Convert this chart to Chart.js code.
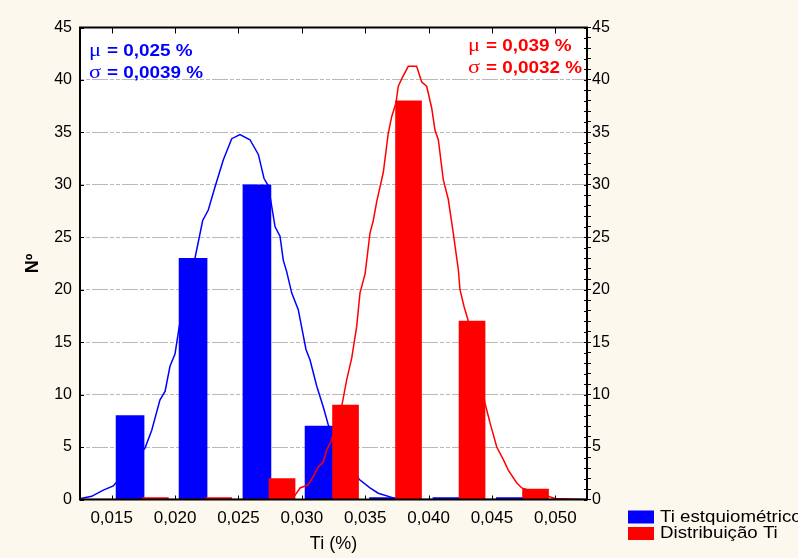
<!DOCTYPE html>
<html>
<head>
<meta charset="utf-8">
<script src="https://cdn.jsdelivr.net/npm/chart.js@4.4.1/dist/chart.umd.min.js"></script>
<style>
  html, body { margin: 0; padding: 0; background: #fdf8ee; }
  #wrap { width: 798px; height: 558px; }
</style>
</head>
<body>
<div id="wrap"><canvas id="ti-chart" width="798" height="558"></canvas></div>
<script>
// x axis tick labels (Ti %)
const xTickValues = [0.015, 0.020, 0.025, 0.030, 0.035, 0.040, 0.045, 0.050];

// histogram bars, Ti estquiométrico (blue)
const blueBarX = [0.01645, 0.02142, 0.02646, 0.03136, 0.03645, 0.04145, 0.04645];
const blueBarN = [8, 23, 30, 7, 0, 0, 0];

// histogram bars, Distribuição Ti (red)
const redBarX = [0.01844, 0.02344, 0.02844, 0.03345, 0.03842, 0.04343, 0.04844];
const redBarN = [0, 0, 2, 9, 38, 17, 1];

// fitted curve, blue
const blueCurveX = [0.01256, 0.01342, 0.01434, 0.01513, 0.01763, 0.01816, 0.01881, 0.01921, 0.01960,
  0.02000, 0.02033, 0.02157, 0.02218, 0.02262, 0.02315, 0.02381, 0.02447, 0.02512, 0.02591,
  0.02657, 0.02702, 0.02736, 0.02789, 0.02828, 0.02854, 0.02881, 0.02920, 0.02972, 0.03033,
  0.03065, 0.03118, 0.03144, 0.03170, 0.03209, 0.03454, 0.03538, 0.03603, 0.03709, 0.03749, 0.0525];
const blueCurveN = [0.1, 0.3, 0.9, 1.3, 4.9, 6.6, 9.5, 10.3, 12.7,
  13.9, 16.5, 23.0, 26.6, 27.6, 29.8, 32.4, 34.4, 34.8, 34.3,
  32.9, 30.6, 29.9, 26.0, 25.1, 22.8, 21.7, 19.7, 18.1, 14.3,
  13.3, 10.8, 9.8, 8.8, 7.1, 1.9, 1.1, 0.6, 0.2, 0, 0];

// fitted curve, red
const redCurveX = [0.0125, 0.02749, 0.02946, 0.02986, 0.03051, 0.03091, 0.03130, 0.03170, 0.03196,
  0.03236, 0.03315, 0.03354, 0.03394, 0.03433, 0.03459, 0.03499, 0.03538, 0.03564, 0.03591,
  0.03643, 0.03682, 0.03709, 0.03743, 0.03761, 0.03796, 0.03840, 0.03906, 0.03946, 0.03985,
  0.04025, 0.04051, 0.04077, 0.04116, 0.04156, 0.04195, 0.04235, 0.04248, 0.04280, 0.04314,
  0.04445, 0.04485, 0.04538, 0.04590, 0.04629, 0.04695, 0.04735, 0.04998, 0.05218];
const redCurveN = [0, 0, 0.4, 1.1, 1.4, 2.2, 3.1, 3.6, 4.7,
  5.7, 8.9, 11.4, 13.5, 16.5, 19.7, 21.5, 25.4, 26.6, 28.4,
  31.2, 34.9, 36.5, 37.8, 39.4, 40.3, 41.3, 41.3, 39.8, 39.4,
  37.3, 35.2, 34.3, 30.5, 28.6, 25.4, 21.9, 20.0, 18.4, 17.0,
  9.2, 7.3, 5.0, 3.8, 2.8, 1.6, 1.1, 0.1, 0];

const BLUE = '#0000ff';
const RED = '#ff0000';
const SANS = '"Liberation Sans", Arial, sans-serif';
const SERIF = '"Liberation Serif", "Times New Roman", serif';

function pairs(xs, ys) {
  return xs.map((x, i) => ({ x: x, y: ys[i] }));
}

// background, white plot area, frame, inner ticks, stats text, legend
const decorations = {
  id: 'decorations',
  beforeDraw(chart) {
    const { ctx, chartArea: a } = chart;
    ctx.save();
    ctx.fillStyle = '#fdf8ee';
    ctx.fillRect(0, 0, chart.width, chart.height);
    ctx.fillStyle = '#ffffff';
    ctx.fillRect(a.left, a.top, a.right - a.left, a.bottom - a.top);
    ctx.restore();
  },
  afterDatasetsDraw(chart) {
    const { ctx, chartArea: a, scales } = chart;
    ctx.save();
    ctx.strokeStyle = '#000';
    ctx.lineWidth = 1;
    ctx.beginPath();
    xTickValues.forEach(v => {
      const px = Math.round(scales.x.getPixelForValue(v)) + 0.5;
      ctx.moveTo(px, a.top); ctx.lineTo(px, a.top + 6);
      ctx.moveTo(px, a.bottom); ctx.lineTo(px, a.bottom - 4);
    });
    scales.y.ticks.forEach(t => {
      const py = Math.round(scales.y.getPixelForValue(t.value)) + 0.5;
      ctx.moveTo(a.left, py); ctx.lineTo(a.left + 4, py);
    });
    scales.y2.ticks.forEach(t => {
      const py = Math.round(scales.y2.getPixelForValue(t.value)) + 0.5;
      ctx.moveTo(a.right, py); ctx.lineTo(a.right - 3, py);
    });
    ctx.stroke();
    ctx.lineWidth = 2;
    ctx.strokeRect(a.left, a.top, a.right - a.left, a.bottom - a.top);
    ctx.restore();

    drawStat(ctx, a.left + 9, a.top + 24, '\u03bc', '= 0,025 %', BLUE);
    drawStat(ctx, a.left + 9, a.top + 46, '\u03c3', '= 0,0039 %', BLUE);
    drawStat(ctx, 468, a.top + 19, '\u03bc', '= 0,039 %', RED);
    drawStat(ctx, 468, a.top + 41, '\u03c3', '= 0,0032 %', RED);

    // legend
    const lx = a.right + 41;
    const items = [[BLUE, 'Ti estquiométrico', 517], [RED, 'Distribuição Ti', 533.5]];
    ctx.save();
    items.forEach(([c, label, y]) => {
      ctx.fillStyle = c;
      ctx.fillRect(lx, y - 6.5, 26, 13);
      ctx.save();
      ctx.translate(lx + 32, y);
      ctx.scale(1.1, 1);
      ctx.fillStyle = '#000';
      ctx.font = '17px ' + SANS;
      ctx.textBaseline = 'middle';
      ctx.fillText(label, 0, 0);
      ctx.restore();
    });
    ctx.restore();
  }
};

function drawStat(ctx, x, y, sym, rest, color) {
  ctx.save();
  ctx.translate(x, y);
  ctx.scale(1.18, 1);
  ctx.fillStyle = color;
  ctx.textBaseline = 'middle';
  ctx.font = '19px ' + SERIF;
  ctx.fillText(sym, 0, 0);
  const w = ctx.measureText(sym).width;
  ctx.font = 'bold 16px ' + SANS;
  ctx.fillText(rest, w + 5, 0);
  ctx.restore();
}

Chart.defaults.font.family = SANS;
Chart.defaults.color = '#000';

new Chart(document.getElementById('ti-chart'), {
  type: 'bar',
  data: {
    datasets: [
      {
        type: 'line',
        label: 'Distribuição Ti (ajuste)',
        data: pairs(redCurveX, redCurveN),
        borderColor: RED,
        borderWidth: 1.5,
        pointRadius: 0,
        tension: 0,
        order: 0
      },
      {
        label: 'Distribuição Ti',
        data: pairs(redBarX, redBarN),
        backgroundColor: RED,
        barThickness: 26,
        minBarLength: 2,
        order: 1
      },
      {
        label: 'Ti estquiométrico',
        data: pairs(blueBarX, blueBarN),
        backgroundColor: BLUE,
        barThickness: 28,
        minBarLength: 2,
        order: 2
      },
      {
        type: 'line',
        label: 'Ti estquiométrico (ajuste)',
        data: pairs(blueCurveX, blueCurveN),
        borderColor: BLUE,
        borderWidth: 1.5,
        pointRadius: 0,
        tension: 0,
        order: 3
      }
    ]
  },
  options: {
    responsive: false,
    animation: false,
    devicePixelRatio: 1,
    layout: { padding: { top: 27.5, left: 0, right: 0, bottom: 0 } },
    datasets: { bar: { grouped: false } },
    plugins: {
      legend: { display: false },
      tooltip: { enabled: false }
    },
    scales: {
      x: {
        type: 'linear',
        position: 'bottom',
        min: 0.0125,
        max: 0.0525,
        offset: false,
        afterFit: s => { s.height = 58.5; },
        afterBuildTicks: s => { s.ticks = xTickValues.map(v => ({ value: v })); },
        grid: { display: false, drawTicks: false },
        border: { display: false },
        ticks: {
          padding: 9,
          font: { size: 17 },
          callback: v => v.toFixed(3).replace('.', ',')
        },
        title: {
          display: true,
          text: 'Ti (%)',
          font: { size: 18 },
          padding: { top: 0, bottom: 3 }
        }
      },
      y: {
        position: 'left',
        min: 0,
        max: 45,
        afterFit: s => { s.width = 80; },
        grid: {
          drawTicks: false,
          lineWidth: 1,
          color: c => (c.tick && (c.tick.value === 0 || c.tick.value === 45)) ? 'rgba(0,0,0,0)' : '#b9b9b9'
        },
        border: { display: false, dash: [4, 2, 4, 2, 16, 2] },
        ticks: { stepSize: 5, padding: 8, font: { size: 16 } },
        title: {
          display: true,
          text: 'Nº',
          font: { size: 18, weight: 'bold' },
          padding: { top: 22, bottom: 0 }
        }
      },
      y2: {
        position: 'right',
        min: 0,
        max: 45,
        afterFit: s => { s.width = 211; },
        grid: { drawOnChartArea: false, tickLength: 4, color: '#000' },
        border: { display: false },
        ticks: {
          stepSize: 1,
          autoSkip: false,
          padding: 1,
          font: { size: 16 },
          callback: v => (v % 5 === 0 ? v : '')
        }
      }
    }
  },
  plugins: [decorations]
});
</script>
</body>
</html>
